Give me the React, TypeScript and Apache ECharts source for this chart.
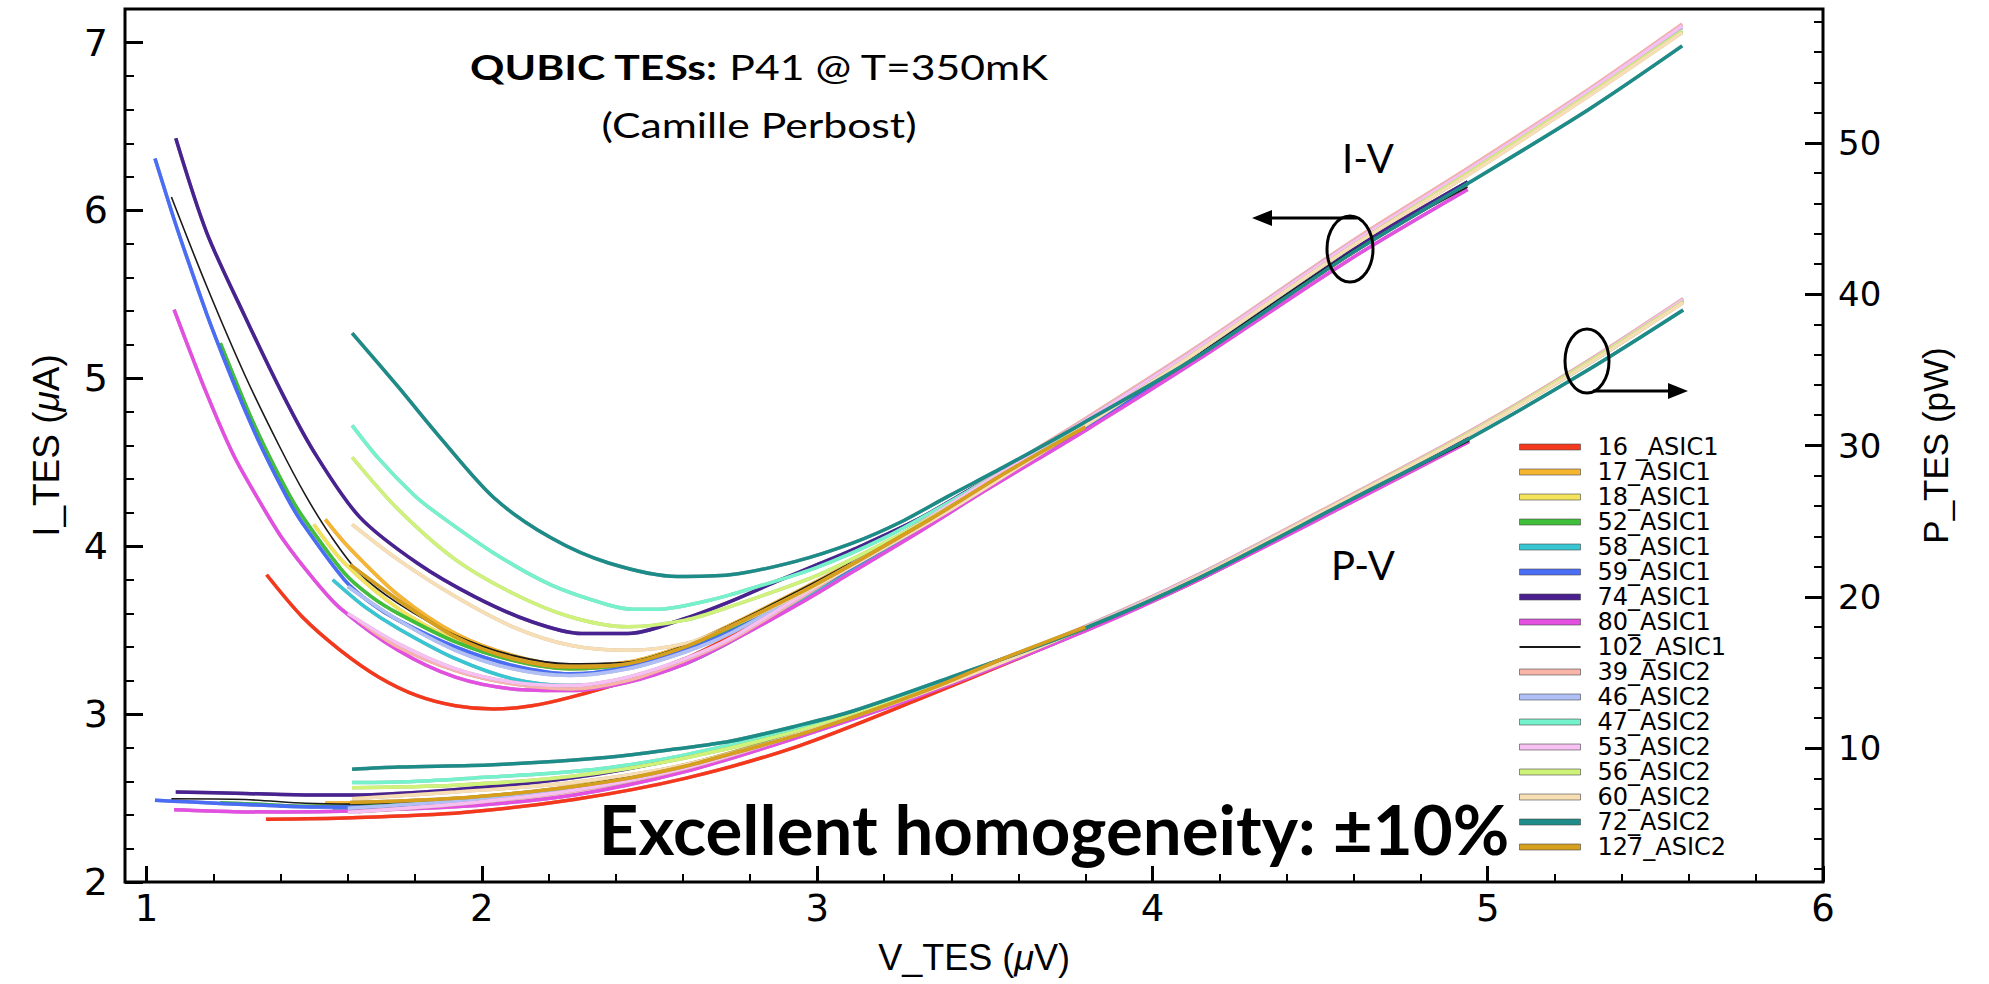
import React, { useEffect, useRef } from "react";
import * as echarts from "echarts";

// ---------- axis ranges & ticks ----------
const X_MIN = 0.9356;
const X_MAX = 6;
const I_MIN = 2;
const I_MAX = 7.2;
const P_MIN = 1.15;
const P_MAX = 58.85;

const xMajor = [1, 2, 3, 4, 5, 6];
const xMinor = [1.2, 1.4, 1.6, 1.8, 2.2, 2.4, 2.6, 2.8, 3.2, 3.4, 3.6, 3.8, 4.2, 4.4, 4.6, 4.8, 5.2, 5.4, 5.6, 5.8];
const iMajor = [2, 3, 4, 5, 6, 7];
const iMinor = [2.2, 2.4, 2.6, 2.8, 3.2, 3.4, 3.6, 3.8, 4.2, 4.4, 4.6, 4.8, 5.2, 5.4, 5.6, 5.8, 6.2, 6.4, 6.6, 6.8];
const pMajor = [10, 20, 30, 40, 50];
const pMinor = [2, 4, 6, 8, 12, 14, 16, 18, 22, 24, 26, 28, 32, 34, 36, 38, 42, 44, 46, 48, 52, 54, 56, 58];

// ---------- I-V and P-V data (V in µV, I in µA, P in pW) ----------
const V_16 = [1.358, 1.464, 1.578, 1.693, 1.807, 1.921, 2.035, 2.149, 2.263, 2.435, 2.606, 2.74, 2.94, 3.1, 3.3, 3.5, 3.8, 4.135, 4.59, 4.94];
const I_16 = [3.83, 3.58, 3.38, 3.22, 3.11, 3.05, 3.03, 3.05, 3.10, 3.20, 3.33, 3.46, 3.67, 3.85, 4.09, 4.34, 4.70, 5.13, 5.74, 6.16];
const PV_16 = [1.356, 1.613, 1.944, 2.275, 2.606, 2.94, 3.3, 3.8, 4.135, 4.59, 4.944];
const P_16 = [5.3, 5.4, 5.75, 6.6, 8.0, 10.1, 13.2, 17.8, 21.1, 26.3, 30.3];

const V_17 = [1.533, 1.6, 1.75, 1.921, 2.092, 2.263, 2.435, 2.606, 2.74, 2.94, 3.1, 3.3, 3.5, 3.8, 4.135, 4.59, 4.94];
const I_17 = [4.16, 4.00, 3.71, 3.48, 3.35, 3.29, 3.31, 3.41, 3.53, 3.73, 3.90, 4.13, 4.37, 4.72, 5.15, 5.76, 6.17];
const PV_17 = [1.533, 1.613, 1.944, 2.275, 2.606, 2.94, 3.3, 3.8, 4.135, 4.59, 4.944];
const P_17 = [6.37, 6.38, 6.7, 7.5, 8.9, 11.0, 13.6, 17.9, 21.2, 26.4, 30.4];

const V_18 = [1.499, 1.59, 1.75, 1.921, 2.092, 2.263, 2.435, 2.606, 2.74, 2.94, 3.1, 3.3, 3.5, 3.8, 4.135, 4.59, 4.94];
const I_18 = [4.13, 3.90, 3.63, 3.44, 3.32, 3.27, 3.30, 3.40, 3.51, 3.72, 3.89, 4.12, 4.36, 4.71, 5.14, 5.75, 6.17];
const PV_18 = [1.499, 1.613, 1.944, 2.275, 2.606, 2.94, 3.3, 3.8, 4.135, 4.59, 4.944];
const P_18 = [6.18, 6.2, 6.65, 7.45, 8.85, 10.95, 13.55, 17.9, 21.2, 26.4, 30.4];

const V_52 = [1.22, 1.30, 1.35, 1.419, 1.464, 1.59, 1.67, 1.75, 1.921, 2.092, 2.263, 2.435, 2.606, 2.74, 2.94, 3.1, 3.3, 3.5, 3.8, 4.135, 4.59, 4.94];
const I_52 = [5.21, 4.82, 4.60, 4.33, 4.18, 3.84, 3.70, 3.60, 3.43, 3.32, 3.27, 3.30, 3.40, 3.51, 3.70, 3.88, 4.12, 4.36, 4.71, 5.14, 5.75, 6.16];
const PV_52 = [1.22, 1.35, 1.464, 1.613, 1.944, 2.275, 2.606, 2.94, 3.3, 3.8, 4.135, 4.59, 4.944];
const P_52 = [6.38, 6.28, 6.16, 6.16, 6.65, 7.42, 8.86, 10.94, 13.6, 17.9, 21.2, 26.4, 30.4];

const V_58 = [1.555, 1.65, 1.75, 1.921, 2.092, 2.263, 2.435, 2.606, 2.74, 2.94, 3.1, 3.3, 3.5, 3.8, 4.135, 4.59, 4.94];
const I_58 = [3.80, 3.64, 3.51, 3.33, 3.21, 3.17, 3.20, 3.30, 3.43, 3.66, 3.85, 4.10, 4.35, 4.71, 5.14, 5.75, 6.16];
const PV_58 = [1.555, 1.613, 1.944, 2.275, 2.606, 2.94, 3.3, 3.8, 4.135, 4.59, 4.944];
const P_58 = [5.91, 5.97, 6.42, 7.21, 8.6, 10.8, 13.5, 17.9, 21.2, 26.4, 30.4];

const V_59 = [1.025, 1.08, 1.122, 1.18, 1.236, 1.30, 1.35, 1.419, 1.464, 1.59, 1.67, 1.75, 1.921, 2.092, 2.263, 2.435, 2.606, 2.74, 2.94, 3.1, 3.3, 3.5, 3.8, 4.135, 4.59, 4.94];
const I_59 = [6.31, 5.96, 5.71, 5.38, 5.09, 4.78, 4.56, 4.29, 4.14, 3.80, 3.66, 3.56, 3.40, 3.29, 3.24, 3.28, 3.38, 3.49, 3.69, 3.87, 4.11, 4.36, 4.71, 5.14, 5.75, 6.17];
const PV_59 = [1.025, 1.122, 1.236, 1.35, 1.464, 1.613, 1.944, 2.275, 2.606, 2.94, 3.3, 3.8, 4.135, 4.59, 4.944];
const P_59 = [6.55, 6.45, 6.32, 6.22, 6.12, 6.1, 6.5, 7.35, 8.8, 10.9, 13.5, 17.9, 21.2, 26.3, 30.4];

const V_74 = [1.087, 1.179, 1.293, 1.407, 1.50, 1.635, 1.807, 1.978, 2.149, 2.298, 2.435, 2.606, 2.74, 2.879, 3.0, 3.107, 3.3, 3.5, 3.8, 4.135, 4.59, 4.94];
const I_74 = [6.43, 5.87, 5.37, 4.90, 4.56, 4.175, 3.90, 3.70, 3.55, 3.48, 3.48, 3.57, 3.67, 3.79, 3.89, 3.98, 4.16, 4.39, 4.73, 5.15, 5.76, 6.17];
const PV_74 = [1.087, 1.293, 1.50, 1.613, 1.944, 2.275, 2.606, 2.94, 3.3, 3.8, 4.135, 4.59, 4.944];
const P_74 = [7.1, 7.0, 6.9, 6.9, 7.3, 8.05, 9.4, 11.25, 13.7, 17.9, 21.3, 26.4, 30.5];

const V_80 = [1.082, 1.179, 1.26, 1.339, 1.407, 1.50, 1.578, 1.75, 1.921, 2.092, 2.263, 2.435, 2.606, 2.74, 2.94, 3.1, 3.3, 3.5, 3.8, 4.135, 4.59, 4.94];
const I_80 = [5.41, 4.91, 4.54, 4.26, 4.04, 3.80, 3.63, 3.38, 3.22, 3.15, 3.14, 3.19, 3.30, 3.43, 3.65, 3.84, 4.08, 4.33, 4.69, 5.11, 5.71, 6.125];
const PV_80 = [1.082, 1.26, 1.407, 1.613, 1.944, 2.275, 2.606, 2.94, 3.3, 3.8, 4.135, 4.59, 4.944];
const P_80 = [5.92, 5.8, 5.78, 5.85, 6.15, 6.9, 8.45, 10.7, 13.4, 17.75, 21.1, 26.2, 30.25];

const V_102 = [1.074, 1.179, 1.293, 1.395, 1.475, 1.55, 1.635, 1.75, 1.921, 2.092, 2.263, 2.435, 2.606, 2.74, 2.94, 3.1, 3.3, 3.5, 3.8, 4.135, 4.59, 4.94];
const I_102 = [6.08, 5.55, 5.02, 4.60, 4.30, 4.06, 3.84, 3.66, 3.47, 3.35, 3.30, 3.31, 3.41, 3.53, 3.73, 3.90, 4.13, 4.37, 4.72, 5.14, 5.75, 6.14];
const PV_102 = [1.074, 1.293, 1.475, 1.613, 1.944, 2.275, 2.606, 2.94, 3.3, 3.8, 4.135, 4.59, 4.944];
const P_102 = [6.65, 6.6, 6.35, 6.3, 6.72, 7.48, 8.88, 10.95, 13.6, 17.85, 21.2, 26.35, 30.3];

const V_39 = [1.63, 1.75, 1.921, 2.092, 2.263, 2.435, 2.606, 2.74, 2.94, 3.1, 3.3, 3.5, 3.8, 4.135, 4.59, 4.94, 5.3, 5.58];
const I_39 = [3.56, 3.40, 3.26, 3.18, 3.15, 3.20, 3.32, 3.44, 3.68, 3.88, 4.13, 4.39, 4.76, 5.19, 5.81, 6.25, 6.72, 7.11];
const PV_39 = [1.63, 1.944, 2.275, 2.606, 2.94, 3.3, 3.8, 4.135, 4.59, 4.944, 5.3, 5.583];
const P_39 = [5.8, 6.32, 7.17, 8.65, 10.88, 13.6, 18.05, 21.45, 26.7, 30.9, 35.6, 39.7];

const V_46 = [1.60, 1.75, 1.921, 2.092, 2.263, 2.435, 2.606, 2.74, 2.94, 3.1, 3.3, 3.5, 3.8, 4.135, 4.59, 4.94, 5.3, 5.58];
const I_46 = [3.76, 3.56, 3.38, 3.27, 3.23, 3.27, 3.37, 3.48, 3.70, 3.89, 4.13, 4.38, 4.75, 5.18, 5.80, 6.23, 6.70, 7.09];
const PV_46 = [1.60, 1.944, 2.275, 2.606, 2.94, 3.3, 3.8, 4.135, 4.59, 4.944, 5.3, 5.583];
const P_46 = [6.02, 6.55, 7.35, 8.78, 10.9, 13.6, 18.0, 21.4, 26.6, 30.8, 35.5, 39.6];

const V_47 = [1.613, 1.693, 1.795, 1.863, 2.035, 2.206, 2.378, 2.45, 2.526, 2.65, 2.74, 2.993, 3.2, 3.4, 3.6, 3.8, 4.135, 4.59, 4.94, 5.3, 5.58];
const I_47 = [4.72, 4.52, 4.31, 4.20, 3.96, 3.77, 3.65, 3.625, 3.625, 3.665, 3.71, 3.87, 4.05, 4.27, 4.50, 4.73, 5.16, 5.78, 6.22, 6.69, 7.07];
const PV_47 = [1.613, 1.795, 2.035, 2.206, 2.378, 2.606, 2.94, 3.2, 3.4, 3.8, 4.135, 4.59, 4.944, 5.3, 5.583];
const P_47 = [7.72, 7.8, 8.1, 8.33, 8.7, 9.55, 11.3, 13.0, 14.55, 17.97, 21.3, 26.6, 30.8, 35.4, 39.5];

const V_53 = [1.60, 1.75, 1.921, 2.092, 2.263, 2.435, 2.606, 2.74, 2.94, 3.1, 3.3, 3.5, 3.8, 4.135, 4.59, 4.94, 5.3, 5.58];
const I_53 = [3.60, 3.42, 3.27, 3.19, 3.17, 3.22, 3.33, 3.45, 3.69, 3.88, 4.13, 4.38, 4.75, 5.18, 5.80, 6.24, 6.71, 7.10];
const PV_53 = [1.60, 1.944, 2.275, 2.606, 2.94, 3.3, 3.8, 4.135, 4.59, 4.944, 5.3, 5.583];
const P_53 = [5.76, 6.34, 7.21, 8.68, 10.88, 13.6, 18.0, 21.4, 26.65, 30.85, 35.55, 39.65];

const V_56 = [1.613, 1.75, 1.921, 2.092, 2.263, 2.435, 2.606, 2.74, 2.993, 3.2, 3.4, 3.6, 3.8, 4.135, 4.59, 4.94, 5.3, 5.58];
const I_56 = [4.53, 4.22, 3.92, 3.72, 3.58, 3.52, 3.56, 3.64, 3.82, 4.02, 4.24, 4.48, 4.72, 5.16, 5.78, 6.22, 6.69, 7.07];
const PV_56 = [1.613, 1.921, 2.263, 2.606, 2.993, 3.4, 3.8, 4.135, 4.59, 4.944, 5.3, 5.583];
const P_56 = [7.38, 7.55, 8.12, 9.35, 11.45, 14.42, 17.94, 21.3, 26.6, 30.8, 35.5, 39.5];

const V_60 = [1.613, 1.75, 1.921, 2.092, 2.263, 2.435, 2.606, 2.74, 2.993, 3.2, 3.4, 3.6, 3.8, 4.135, 4.59, 4.94, 5.3, 5.58];
const I_60 = [4.13, 3.92, 3.70, 3.52, 3.41, 3.38, 3.42, 3.52, 3.76, 3.99, 4.22, 4.47, 4.72, 5.16, 5.78, 6.21, 6.68, 7.06];
const PV_60 = [1.613, 1.921, 2.263, 2.606, 2.993, 3.4, 3.8, 4.135, 4.59, 4.944, 5.3, 5.583];
const P_60 = [6.65, 7.1, 7.71, 8.91, 11.25, 14.35, 17.94, 21.3, 26.6, 30.75, 35.4, 39.45];

const V_72 = [1.613, 1.75, 1.87, 2.035, 2.206, 2.378, 2.583, 2.74, 2.936, 3.107, 3.245, 3.393, 3.564, 3.79, 4.135, 4.59, 4.94, 5.3, 5.58];
const I_72 = [5.27, 4.95, 4.66, 4.29, 4.05, 3.90, 3.82, 3.83, 3.91, 4.02, 4.14, 4.30, 4.48, 4.73, 5.13, 5.74, 6.16, 6.60, 6.98];
const PV_72 = [1.613, 1.75, 2.035, 2.378, 2.583, 2.74, 2.936, 3.107, 3.393, 3.79, 4.135, 4.59, 4.944, 5.3, 5.583];
const P_72 = [8.6, 8.75, 8.9, 9.4, 9.95, 10.45, 11.45, 12.45, 14.64, 17.85, 21.2, 26.4, 30.45, 35.0, 38.95];

const V_127 = [1.607, 1.75, 1.921, 2.092, 2.263, 2.435, 2.606, 2.74, 2.993, 3.336, 3.564, 3.80];
const I_127 = [3.89, 3.68, 3.46, 3.33, 3.28, 3.30, 3.40, 3.52, 3.77, 4.16, 4.44, 4.71];
const PV_127 = [1.607, 1.75, 1.921, 2.092, 2.263, 2.435, 2.606, 2.74, 2.993, 3.336, 3.564, 3.80];
const P_127 = [6.4, 6.5, 6.68, 7.0, 7.42, 8.0, 8.8, 9.6, 11.2, 13.9, 16.0, 18.0];

const DEVICES = [
  { name: "16 _ASIC1", color: "#f5391c", w: 3.5, v: V_16, i: I_16, pv: PV_16, p: P_16 },
  { name: "17_ASIC1", color: "#f6b530", w: 3.5, v: V_17, i: I_17, pv: PV_17, p: P_17 },
  { name: "18_ASIC1", color: "#f3e45c", w: 3.5, v: V_18, i: I_18, pv: PV_18, p: P_18 },
  { name: "52_ASIC1", color: "#3fbf3a", w: 3.5, v: V_52, i: I_52, pv: PV_52, p: P_52 },
  { name: "58_ASIC1", color: "#37c6d2", w: 3.5, v: V_58, i: I_58, pv: PV_58, p: P_58 },
  { name: "59_ASIC1", color: "#4a6ef5", w: 3.5, v: V_59, i: I_59, pv: PV_59, p: P_59 },
  { name: "74_ASIC1", color: "#4a2091", w: 3.5, v: V_74, i: I_74, pv: PV_74, p: P_74 },
  { name: "80_ASIC1", color: "#e350e0", w: 3.5, v: V_80, i: I_80, pv: PV_80, p: P_80 },
  { name: "102_ASIC1", color: "#1a1a1a", w: 1.6, v: V_102, i: I_102, pv: PV_102, p: P_102 },
  { name: "39_ASIC2", color: "#f8b4a9", w: 3.5, v: V_39, i: I_39, pv: PV_39, p: P_39 },
  { name: "46_ASIC2", color: "#b0c0f7", w: 3.5, v: V_46, i: I_46, pv: PV_46, p: P_46 },
  { name: "47_ASIC2", color: "#74f2cb", w: 3.5, v: V_47, i: I_47, pv: PV_47, p: P_47 },
  { name: "53_ASIC2", color: "#f6c0f2", w: 3.5, v: V_53, i: I_53, pv: PV_53, p: P_53 },
  { name: "56_ASIC2", color: "#cff27a", w: 3.5, v: V_56, i: I_56, pv: PV_56, p: P_56 },
  { name: "60_ASIC2", color: "#f7deb4", w: 3.5, v: V_60, i: I_60, pv: PV_60, p: P_60 },
  { name: "72_ASIC2", color: "#1e8c88", w: 3.5, v: V_72, i: I_72, pv: PV_72, p: P_72 },
  { name: "127_ASIC2", color: "#d6a01f", w: 3.5, v: V_127, i: I_127, pv: PV_127, p: P_127 },
];

const TICK_FONT = "DejaVu Sans";
const TITLE_FONT = "Liberation Sans";
const NOTE_FONT = "Lato";

function buildOption() {
  const series: any[] = [];
  const mkLine = (d: any) => ({
    color: d.color,
    width: d.w,
    shadowColor: d.w > 2 ? "rgba(70,70,70,0.55)" : "rgba(0,0,0,0)",
    shadowBlur: d.w > 2 ? 1.5 : 0,
  });
  DEVICES.forEach((d, k) => {
    series.push({
      type: "line",
      name: d.name,
      xAxisIndex: 0,
      yAxisIndex: 0,
      data: d.v.map((x, j) => [x, d.i[j]]),
      symbol: "none",
      showSymbol: false,
      smooth: 0.3,
      lineStyle: mkLine(d),
      itemStyle: { color: d.color },
      z: 2 + k * 0.01,
    });
    series.push({
      type: "line",
      name: d.name,
      xAxisIndex: 0,
      yAxisIndex: 1,
      data: d.pv.map((x, j) => [x, d.p[j]]),
      symbol: "none",
      showSymbol: false,
      smooth: 0.3,
      lineStyle: mkLine(d),
      itemStyle: { color: d.color },
      z: 2 + k * 0.01,
    });
  });

  const tickLine = { color: "#000", width: 3 };
  const minorLine = { color: "#000", width: 2 };
  const nameStyle = (size: number) => ({
    fontFamily: TITLE_FONT,
    fontSize: size,
    color: "#000",
    rich: { mu: { fontFamily: TITLE_FONT, fontSize: size, fontStyle: "italic", color: "#000" } },
  });

  return {
    animation: false,
    backgroundColor: "#ffffff",
    grid: {
      left: 125,
      right: 166,
      top: 9,
      bottom: 102,
      show: true,
      borderColor: "#000",
      borderWidth: 3,
      backgroundColor: "transparent",
      containLabel: false,
      outerBoundsMode: "none",
    },
    legend: {
      orient: "vertical",
      left: 1519,
      top: 435,
      padding: 0,
      itemGap: 1,
      itemWidth: 61,
      itemHeight: 6,
      icon: "rect",
      itemStyle: { borderColor: "rgba(70,70,70,0.6)", borderWidth: 1 },
      data: DEVICES.map((d) =>
        d.w < 2 ? { name: d.name, icon: "path://M0,0 H100 V3 H0 Z", itemStyle: { borderWidth: 0 } } : { name: d.name }
      ),
      textStyle: { fontFamily: TICK_FONT, fontSize: 24, color: "#000", lineHeight: 23.8, padding: [0, 0, 0, 12] },
    },
    xAxis: [
      {
        type: "value",
        min: X_MIN,
        max: X_MAX,
        position: "bottom",
        axisLine: { show: false },
        splitLine: { show: false },
        axisTick: { show: true, inside: true, length: 16, customValues: xMajor, lineStyle: tickLine },
        axisLabel: { customValues: xMajor, margin: 8, fontFamily: TICK_FONT, fontSize: 37, color: "#000" },
        name: "V_TES ({mu|μ}V)",
        nameLocation: "middle",
        nameGap: 57,
        nameMoveOverlap: false,
        nameTextStyle: nameStyle(36),
      },
      {
        type: "value",
        min: X_MIN,
        max: X_MAX,
        position: "bottom",
        axisLine: { show: false },
        splitLine: { show: false },
        axisTick: { show: true, inside: true, length: 8, customValues: xMinor, lineStyle: minorLine },
        axisLabel: { show: false },
      },
    ],
    yAxis: [
      {
        type: "value",
        min: I_MIN,
        max: I_MAX,
        position: "left",
        axisLine: { show: false },
        splitLine: { show: false },
        axisTick: { show: true, inside: true, length: 18, customValues: iMajor, lineStyle: tickLine },
        axisLabel: { customValues: iMajor, margin: 17, fontFamily: TICK_FONT, fontSize: 38, color: "#000" },
        name: "I_TES ({mu|μ}A)",
        nameLocation: "middle",
        nameRotate: 90,
        nameGap: 60,
        nameMoveOverlap: false,
        nameTextStyle: nameStyle(37),
      },
      {
        type: "value",
        min: P_MIN,
        max: P_MAX,
        position: "right",
        axisLine: { show: false },
        splitLine: { show: false },
        axisTick: { show: true, inside: true, length: 18, customValues: pMajor, lineStyle: tickLine },
        axisLabel: { customValues: pMajor, margin: 15, fontFamily: TICK_FONT, fontSize: 34, color: "#000" },
        name: "P_TES (pW)",
        nameLocation: "middle",
        nameRotate: 90,
        nameGap: 95,
        nameMoveOverlap: false,
        nameTextStyle: nameStyle(35),
      },
      {
        type: "value",
        min: I_MIN,
        max: I_MAX,
        position: "left",
        axisLine: { show: false },
        splitLine: { show: false },
        axisTick: { show: true, inside: true, length: 9, customValues: iMinor, lineStyle: minorLine },
        axisLabel: { show: false },
      },
      {
        type: "value",
        min: P_MIN,
        max: P_MAX,
        position: "right",
        axisLine: { show: false },
        splitLine: { show: false },
        axisTick: { show: true, inside: true, length: 9, customValues: pMinor, lineStyle: minorLine },
        axisLabel: { show: false },
      },
    ],
    graphic: [
      {
        type: "text",
        x: 759,
        y: 66,
        scaleX: 1.22,
        z: 50,
        style: {
          text: "{b|QUBIC TESs:}{r| P41 @ T=350mK}",
          align: "center",
          textAlign: "center",
          verticalAlign: "middle",
          textVerticalAlign: "middle",
          fill: "#000",
          rich: {
            b: { fontFamily: NOTE_FONT, fontSize: 35, fontWeight: "bold", fill: "#000", color: "#000" },
            r: { fontFamily: NOTE_FONT, fontSize: 35, fill: "#000", color: "#000" },
          },
        },
      },
      {
        type: "text",
        x: 759,
        y: 124,
        scaleX: 1.22,
        z: 50,
        style: {
          text: "(Camille Perbost)",
          font: `35px ${NOTE_FONT}`,
          align: "center",
          textAlign: "center",
          verticalAlign: "middle",
          textVerticalAlign: "middle",
          fill: "#000",
        },
      },
      {
        type: "text",
        x: 1368,
        y: 158,
        z: 50,
        style: { text: "I-V", font: `40px ${NOTE_FONT}`, align: "center", textAlign: "center", verticalAlign: "middle", textVerticalAlign: "middle", fill: "#000" },
      },
      {
        type: "text",
        x: 1363,
        y: 565,
        z: 50,
        style: { text: "P-V", font: `40px ${NOTE_FONT}`, align: "center", textAlign: "center", verticalAlign: "middle", textVerticalAlign: "middle", fill: "#000" },
      },
      {
        type: "text",
        x: 1054,
        y: 828,
        z: 50,
        style: {
          text: "Excellent homogeneity: ±10%",
          font: `bold 69px ${NOTE_FONT}`,
          align: "center",
          textAlign: "center",
          verticalAlign: "middle",
          textVerticalAlign: "middle",
          fill: "#000",
        },
      },
      { type: "ellipse", z: 60, shape: { cx: 1350, cy: 249, rx: 23, ry: 33 }, style: { fill: "none", stroke: "#000", lineWidth: 3 } },
      { type: "line", z: 60, shape: { x1: 1357, y1: 218, x2: 1268, y2: 218 }, style: { stroke: "#000", lineWidth: 3 } },
      { type: "polygon", z: 60, shape: { points: [[1252, 218], [1272, 210], [1272, 226]] }, style: { fill: "#000" } },
      { type: "ellipse", z: 60, shape: { cx: 1587, cy: 361, rx: 22, ry: 32 }, style: { fill: "none", stroke: "#000", lineWidth: 3 } },
      { type: "line", z: 60, shape: { x1: 1593, y1: 391, x2: 1672, y2: 391 }, style: { stroke: "#000", lineWidth: 3 } },
      { type: "polygon", z: 60, shape: { points: [[1688, 391], [1668, 383], [1668, 399]] }, style: { fill: "#000" } },
    ],
    series,
  };
}

export default function App() {
  const ref = useRef<HTMLDivElement>(null);
  useEffect(() => {
    if (!ref.current) return;
    const chart = echarts.init(ref.current, null, { renderer: "svg" });
    chart.setOption(buildOption() as any);
    return () => chart.dispose();
  }, []);
  return (
    <div
      ref={ref}
      style={{ position: "fixed", left: 0, top: 0, width: 1989, height: 984, background: "#fff" }}
    />
  );
}
